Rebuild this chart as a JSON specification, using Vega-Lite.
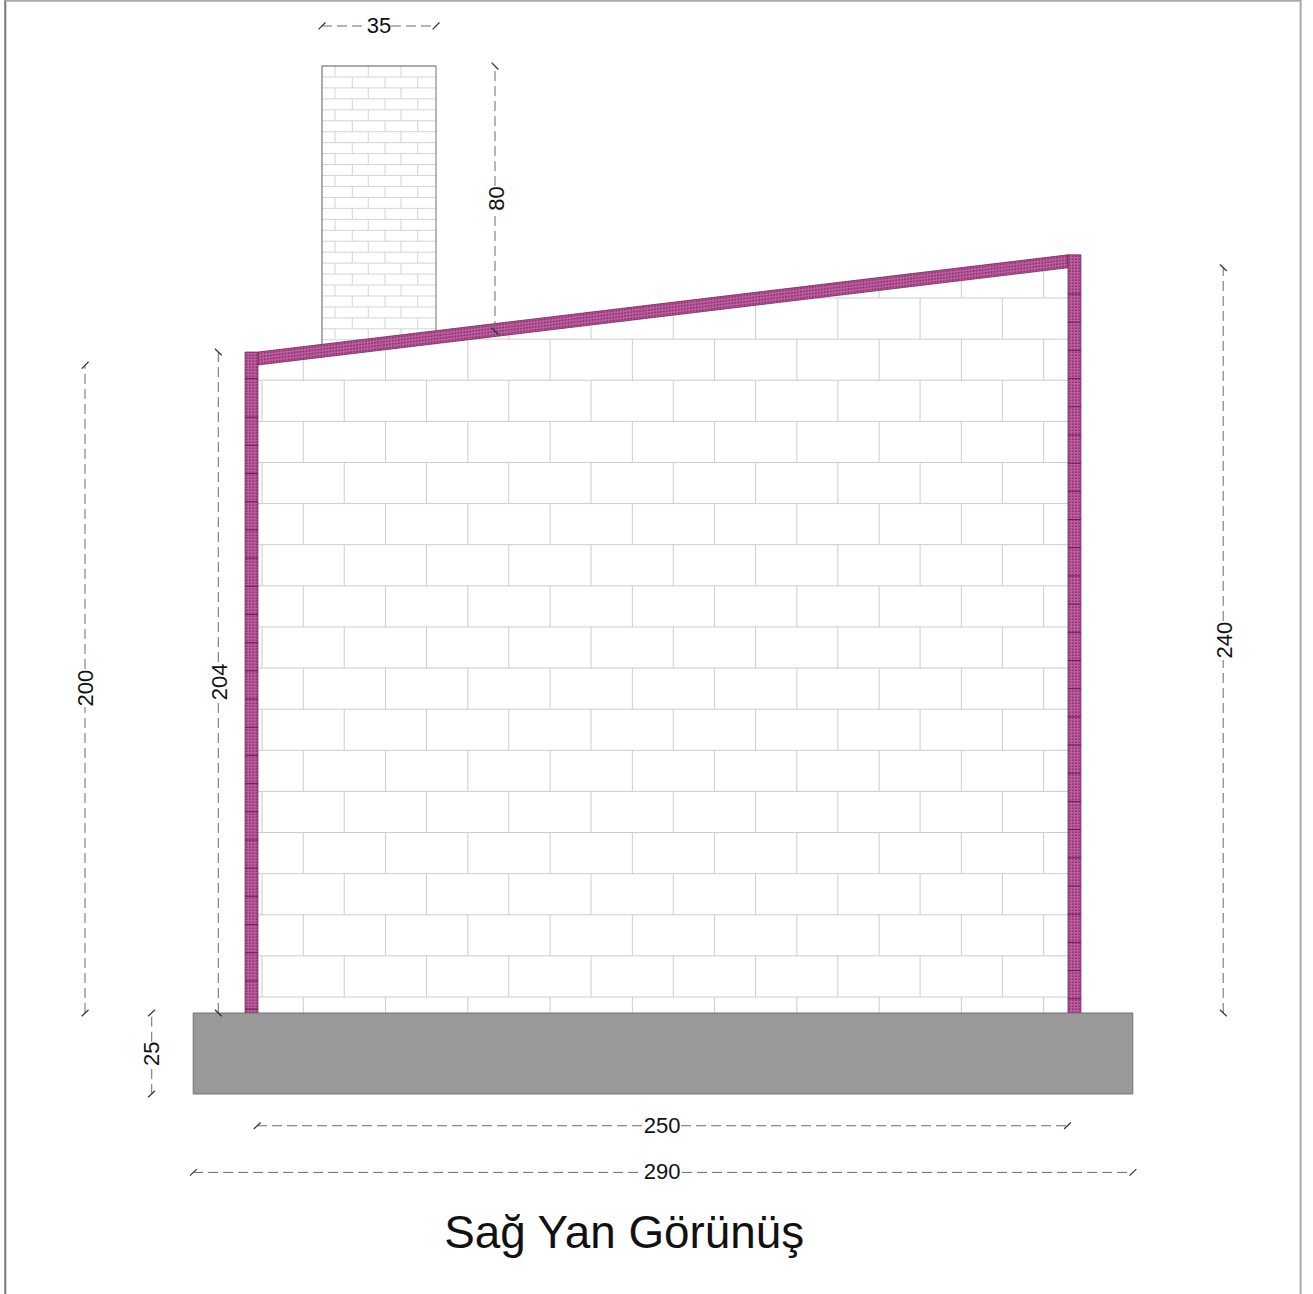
{"$schema":"https://vega.github.io/schema/vega-lite/v6.json","width":1313,"height":1294,"padding":0,"autosize":{"type":"none"},"background":"white","view":{"stroke":null},
"encoding":{"x":{"field":"x","type":"quantitative","axis":null,"scale":{"domain":[-79.63,325.62],"nice":false,"zero":false}},"y":{"field":"y","type":"quantitative","axis":null,"scale":{"domain":[-86.73,312.65],"nice":false,"zero":false}}},
"layer":[
{"data":{"values":[{"x":-78,"x2":-78,"y":-86.73,"y2":312.65}]},"mark":{"type":"rule","stroke":"#777777","strokeWidth":2},"encoding":{"x2":{"field":"x2"},"y2":{"field":"y2"}}},
{"data":{"values":[{"x":321.8,"x2":321.8,"y":-86.73,"y2":312.65},{"x":-78,"x2":321.8,"y":312.44,"y2":312.44}]},"mark":{"type":"rule","stroke":"#aaaaaa","strokeWidth":2},"encoding":{"x2":{"field":"x2"},"y2":{"field":"y2"}}},
{"data":{"values":[
{"x":0,"x2":250,"y":4.94,"y2":4.94},{"x":0,"x2":250,"y":17.63,"y2":17.63},{"x":0,"x2":250,"y":30.32,"y2":30.32},{"x":0,"x2":250,"y":43.01,"y2":43.01},{"x":0,"x2":250,"y":55.7,"y2":55.7},{"x":0,"x2":250,"y":68.39,"y2":68.39},{"x":0,"x2":250,"y":81.08,"y2":81.08},{"x":0,"x2":250,"y":93.77,"y2":93.77},{"x":0,"x2":250,"y":106.46,"y2":106.46},{"x":0,"x2":250,"y":119.15,"y2":119.15},{"x":0,"x2":250,"y":131.84,"y2":131.84},{"x":0,"x2":250,"y":144.53,"y2":144.53},{"x":0,"x2":250,"y":157.22,"y2":157.22},{"x":0,"x2":250,"y":169.91,"y2":169.91},{"x":0,"x2":250,"y":182.6,"y2":182.6},{"x":0,"x2":250,"y":195.29,"y2":195.29},{"x":66.5,"x2":250,"y":207.98,"y2":207.98},{"x":172.25,"x2":250,"y":220.67,"y2":220.67},
{"x":13.98,"x2":13.98,"y":0,"y2":4.94},{"x":39.37,"x2":39.37,"y":0,"y2":4.94},{"x":64.76,"x2":64.76,"y":0,"y2":4.94},{"x":90.15,"x2":90.15,"y":0,"y2":4.94},{"x":115.54,"x2":115.54,"y":0,"y2":4.94},{"x":140.93,"x2":140.93,"y":0,"y2":4.94},{"x":166.32,"x2":166.32,"y":0,"y2":4.94},{"x":191.71,"x2":191.71,"y":0,"y2":4.94},{"x":217.1,"x2":217.1,"y":0,"y2":4.94},{"x":242.49,"x2":242.49,"y":0,"y2":4.94},
{"x":1.23,"x2":1.23,"y":4.94,"y2":17.63},{"x":26.62,"x2":26.62,"y":4.94,"y2":17.63},{"x":52.01,"x2":52.01,"y":4.94,"y2":17.63},{"x":77.4,"x2":77.4,"y":4.94,"y2":17.63},{"x":102.79,"x2":102.79,"y":4.94,"y2":17.63},{"x":128.18,"x2":128.18,"y":4.94,"y2":17.63},{"x":153.57,"x2":153.57,"y":4.94,"y2":17.63},{"x":178.96,"x2":178.96,"y":4.94,"y2":17.63},{"x":204.35,"x2":204.35,"y":4.94,"y2":17.63},{"x":229.74,"x2":229.74,"y":4.94,"y2":17.63},
{"x":13.98,"x2":13.98,"y":17.63,"y2":30.32},{"x":39.37,"x2":39.37,"y":17.63,"y2":30.32},{"x":64.76,"x2":64.76,"y":17.63,"y2":30.32},{"x":90.15,"x2":90.15,"y":17.63,"y2":30.32},{"x":115.54,"x2":115.54,"y":17.63,"y2":30.32},{"x":140.93,"x2":140.93,"y":17.63,"y2":30.32},{"x":166.32,"x2":166.32,"y":17.63,"y2":30.32},{"x":191.71,"x2":191.71,"y":17.63,"y2":30.32},{"x":217.1,"x2":217.1,"y":17.63,"y2":30.32},{"x":242.49,"x2":242.49,"y":17.63,"y2":30.32},
{"x":1.23,"x2":1.23,"y":30.32,"y2":43.01},{"x":26.62,"x2":26.62,"y":30.32,"y2":43.01},{"x":52.01,"x2":52.01,"y":30.32,"y2":43.01},{"x":77.4,"x2":77.4,"y":30.32,"y2":43.01},{"x":102.79,"x2":102.79,"y":30.32,"y2":43.01},{"x":128.18,"x2":128.18,"y":30.32,"y2":43.01},{"x":153.57,"x2":153.57,"y":30.32,"y2":43.01},{"x":178.96,"x2":178.96,"y":30.32,"y2":43.01},{"x":204.35,"x2":204.35,"y":30.32,"y2":43.01},{"x":229.74,"x2":229.74,"y":30.32,"y2":43.01},
{"x":13.98,"x2":13.98,"y":43.01,"y2":55.7},{"x":39.37,"x2":39.37,"y":43.01,"y2":55.7},{"x":64.76,"x2":64.76,"y":43.01,"y2":55.7},{"x":90.15,"x2":90.15,"y":43.01,"y2":55.7},{"x":115.54,"x2":115.54,"y":43.01,"y2":55.7},{"x":140.93,"x2":140.93,"y":43.01,"y2":55.7},{"x":166.32,"x2":166.32,"y":43.01,"y2":55.7},{"x":191.71,"x2":191.71,"y":43.01,"y2":55.7},{"x":217.1,"x2":217.1,"y":43.01,"y2":55.7},{"x":242.49,"x2":242.49,"y":43.01,"y2":55.7},
{"x":1.23,"x2":1.23,"y":55.7,"y2":68.39},{"x":26.62,"x2":26.62,"y":55.7,"y2":68.39},{"x":52.01,"x2":52.01,"y":55.7,"y2":68.39},{"x":77.4,"x2":77.4,"y":55.7,"y2":68.39},{"x":102.79,"x2":102.79,"y":55.7,"y2":68.39},{"x":128.18,"x2":128.18,"y":55.7,"y2":68.39},{"x":153.57,"x2":153.57,"y":55.7,"y2":68.39},{"x":178.96,"x2":178.96,"y":55.7,"y2":68.39},{"x":204.35,"x2":204.35,"y":55.7,"y2":68.39},{"x":229.74,"x2":229.74,"y":55.7,"y2":68.39},
{"x":13.98,"x2":13.98,"y":68.39,"y2":81.08},{"x":39.37,"x2":39.37,"y":68.39,"y2":81.08},{"x":64.76,"x2":64.76,"y":68.39,"y2":81.08},{"x":90.15,"x2":90.15,"y":68.39,"y2":81.08},{"x":115.54,"x2":115.54,"y":68.39,"y2":81.08},{"x":140.93,"x2":140.93,"y":68.39,"y2":81.08},{"x":166.32,"x2":166.32,"y":68.39,"y2":81.08},{"x":191.71,"x2":191.71,"y":68.39,"y2":81.08},{"x":217.1,"x2":217.1,"y":68.39,"y2":81.08},{"x":242.49,"x2":242.49,"y":68.39,"y2":81.08},
{"x":1.23,"x2":1.23,"y":81.08,"y2":93.77},{"x":26.62,"x2":26.62,"y":81.08,"y2":93.77},{"x":52.01,"x2":52.01,"y":81.08,"y2":93.77},{"x":77.4,"x2":77.4,"y":81.08,"y2":93.77},{"x":102.79,"x2":102.79,"y":81.08,"y2":93.77},{"x":128.18,"x2":128.18,"y":81.08,"y2":93.77},{"x":153.57,"x2":153.57,"y":81.08,"y2":93.77},{"x":178.96,"x2":178.96,"y":81.08,"y2":93.77},{"x":204.35,"x2":204.35,"y":81.08,"y2":93.77},{"x":229.74,"x2":229.74,"y":81.08,"y2":93.77},
{"x":13.98,"x2":13.98,"y":93.77,"y2":106.46},{"x":39.37,"x2":39.37,"y":93.77,"y2":106.46},{"x":64.76,"x2":64.76,"y":93.77,"y2":106.46},{"x":90.15,"x2":90.15,"y":93.77,"y2":106.46},{"x":115.54,"x2":115.54,"y":93.77,"y2":106.46},{"x":140.93,"x2":140.93,"y":93.77,"y2":106.46},{"x":166.32,"x2":166.32,"y":93.77,"y2":106.46},{"x":191.71,"x2":191.71,"y":93.77,"y2":106.46},{"x":217.1,"x2":217.1,"y":93.77,"y2":106.46},{"x":242.49,"x2":242.49,"y":93.77,"y2":106.46},
{"x":1.23,"x2":1.23,"y":106.46,"y2":119.15},{"x":26.62,"x2":26.62,"y":106.46,"y2":119.15},{"x":52.01,"x2":52.01,"y":106.46,"y2":119.15},{"x":77.4,"x2":77.4,"y":106.46,"y2":119.15},{"x":102.79,"x2":102.79,"y":106.46,"y2":119.15},{"x":128.18,"x2":128.18,"y":106.46,"y2":119.15},{"x":153.57,"x2":153.57,"y":106.46,"y2":119.15},{"x":178.96,"x2":178.96,"y":106.46,"y2":119.15},{"x":204.35,"x2":204.35,"y":106.46,"y2":119.15},{"x":229.74,"x2":229.74,"y":106.46,"y2":119.15},
{"x":13.98,"x2":13.98,"y":119.15,"y2":131.84},{"x":39.37,"x2":39.37,"y":119.15,"y2":131.84},{"x":64.76,"x2":64.76,"y":119.15,"y2":131.84},{"x":90.15,"x2":90.15,"y":119.15,"y2":131.84},{"x":115.54,"x2":115.54,"y":119.15,"y2":131.84},{"x":140.93,"x2":140.93,"y":119.15,"y2":131.84},{"x":166.32,"x2":166.32,"y":119.15,"y2":131.84},{"x":191.71,"x2":191.71,"y":119.15,"y2":131.84},{"x":217.1,"x2":217.1,"y":119.15,"y2":131.84},{"x":242.49,"x2":242.49,"y":119.15,"y2":131.84},
{"x":1.23,"x2":1.23,"y":131.84,"y2":144.53},{"x":26.62,"x2":26.62,"y":131.84,"y2":144.53},{"x":52.01,"x2":52.01,"y":131.84,"y2":144.53},{"x":77.4,"x2":77.4,"y":131.84,"y2":144.53},{"x":102.79,"x2":102.79,"y":131.84,"y2":144.53},{"x":128.18,"x2":128.18,"y":131.84,"y2":144.53},{"x":153.57,"x2":153.57,"y":131.84,"y2":144.53},{"x":178.96,"x2":178.96,"y":131.84,"y2":144.53},{"x":204.35,"x2":204.35,"y":131.84,"y2":144.53},{"x":229.74,"x2":229.74,"y":131.84,"y2":144.53},
{"x":13.98,"x2":13.98,"y":144.53,"y2":157.22},{"x":39.37,"x2":39.37,"y":144.53,"y2":157.22},{"x":64.76,"x2":64.76,"y":144.53,"y2":157.22},{"x":90.15,"x2":90.15,"y":144.53,"y2":157.22},{"x":115.54,"x2":115.54,"y":144.53,"y2":157.22},{"x":140.93,"x2":140.93,"y":144.53,"y2":157.22},{"x":166.32,"x2":166.32,"y":144.53,"y2":157.22},{"x":191.71,"x2":191.71,"y":144.53,"y2":157.22},{"x":217.1,"x2":217.1,"y":144.53,"y2":157.22},{"x":242.49,"x2":242.49,"y":144.53,"y2":157.22},
{"x":1.23,"x2":1.23,"y":157.22,"y2":169.91},{"x":26.62,"x2":26.62,"y":157.22,"y2":169.91},{"x":52.01,"x2":52.01,"y":157.22,"y2":169.91},{"x":77.4,"x2":77.4,"y":157.22,"y2":169.91},{"x":102.79,"x2":102.79,"y":157.22,"y2":169.91},{"x":128.18,"x2":128.18,"y":157.22,"y2":169.91},{"x":153.57,"x2":153.57,"y":157.22,"y2":169.91},{"x":178.96,"x2":178.96,"y":157.22,"y2":169.91},{"x":204.35,"x2":204.35,"y":157.22,"y2":169.91},{"x":229.74,"x2":229.74,"y":157.22,"y2":169.91},
{"x":13.98,"x2":13.98,"y":169.91,"y2":182.6},{"x":39.37,"x2":39.37,"y":169.91,"y2":182.6},{"x":64.76,"x2":64.76,"y":169.91,"y2":182.6},{"x":90.15,"x2":90.15,"y":169.91,"y2":182.6},{"x":115.54,"x2":115.54,"y":169.91,"y2":182.6},{"x":140.93,"x2":140.93,"y":169.91,"y2":182.6},{"x":166.32,"x2":166.32,"y":169.91,"y2":182.6},{"x":191.71,"x2":191.71,"y":169.91,"y2":182.6},{"x":217.1,"x2":217.1,"y":169.91,"y2":182.6},{"x":242.49,"x2":242.49,"y":169.91,"y2":182.6},
{"x":1.23,"x2":1.23,"y":182.6,"y2":195.29},{"x":26.62,"x2":26.62,"y":182.6,"y2":195.29},{"x":52.01,"x2":52.01,"y":182.6,"y2":195.29},{"x":77.4,"x2":77.4,"y":182.6,"y2":195.29},{"x":102.79,"x2":102.79,"y":182.6,"y2":195.29},{"x":128.18,"x2":128.18,"y":182.6,"y2":195.29},{"x":153.57,"x2":153.57,"y":182.6,"y2":195.29},{"x":178.96,"x2":178.96,"y":182.6,"y2":195.29},{"x":204.35,"x2":204.35,"y":182.6,"y2":195.29},{"x":229.74,"x2":229.74,"y":182.6,"y2":195.29},
{"x":13.98,"x2":13.98,"y":195.29,"y2":201.68},{"x":39.37,"x2":39.37,"y":195.29,"y2":204.72},{"x":64.76,"x2":64.76,"y":195.29,"y2":207.77},{"x":90.15,"x2":90.15,"y":195.29,"y2":207.98},{"x":115.54,"x2":115.54,"y":195.29,"y2":207.98},{"x":140.93,"x2":140.93,"y":195.29,"y2":207.98},{"x":166.32,"x2":166.32,"y":195.29,"y2":207.98},{"x":191.71,"x2":191.71,"y":195.29,"y2":207.98},{"x":217.1,"x2":217.1,"y":195.29,"y2":207.98},{"x":242.49,"x2":242.49,"y":195.29,"y2":207.98},
{"x":77.4,"x2":77.4,"y":207.98,"y2":209.29},{"x":102.79,"x2":102.79,"y":207.98,"y2":212.33},{"x":128.18,"x2":128.18,"y":207.98,"y2":215.38},{"x":153.57,"x2":153.57,"y":207.98,"y2":218.43},{"x":178.96,"x2":178.96,"y":207.98,"y2":220.67},{"x":204.35,"x2":204.35,"y":207.98,"y2":220.67},{"x":229.74,"x2":229.74,"y":207.98,"y2":220.67},
{"x":191.71,"x2":191.71,"y":220.67,"y2":223},{"x":217.1,"x2":217.1,"y":220.67,"y2":226.05},{"x":242.49,"x2":242.49,"y":220.67,"y2":229.1}
]},"mark":{"type":"rule","stroke":"#cdcdcd","strokeWidth":1},"encoding":{"x2":{"field":"x2"},"y2":{"field":"y2"}}},
{"data":{"values":[
{"x":19.75,"x2":54.94,"y":288.9,"y2":288.9},{"x":19.75,"x2":54.94,"y":285.52,"y2":285.52},{"x":19.75,"x2":54.94,"y":282.14,"y2":282.14},{"x":19.75,"x2":54.94,"y":278.76,"y2":278.76},{"x":19.75,"x2":54.94,"y":275.38,"y2":275.38},{"x":19.75,"x2":54.94,"y":272,"y2":272},{"x":19.75,"x2":54.94,"y":268.62,"y2":268.62},{"x":19.75,"x2":54.94,"y":265.24,"y2":265.24},{"x":19.75,"x2":54.94,"y":261.86,"y2":261.86},{"x":19.75,"x2":54.94,"y":258.48,"y2":258.48},{"x":19.75,"x2":54.94,"y":255.1,"y2":255.1},{"x":19.75,"x2":54.94,"y":251.72,"y2":251.72},{"x":19.75,"x2":54.94,"y":248.34,"y2":248.34},{"x":19.75,"x2":54.94,"y":244.96,"y2":244.96},{"x":19.75,"x2":54.94,"y":241.58,"y2":241.58},{"x":19.75,"x2":54.94,"y":238.2,"y2":238.2},{"x":19.75,"x2":54.94,"y":234.82,"y2":234.82},{"x":19.75,"x2":54.94,"y":231.44,"y2":231.44},{"x":19.75,"x2":54.94,"y":228.06,"y2":228.06},{"x":19.75,"x2":54.94,"y":224.68,"y2":224.68},{"x":19.75,"x2":54.94,"y":221.3,"y2":221.3},{"x":19.75,"x2":54.94,"y":217.92,"y2":217.92},{"x":19.75,"x2":54.94,"y":214.54,"y2":214.54},{"x":19.75,"x2":54.94,"y":211.16,"y2":211.16},{"x":19.75,"x2":31.5,"y":207.78,"y2":207.78},
{"x":23.77,"x2":23.77,"y":288.9,"y2":292.28},{"x":34.04,"x2":34.04,"y":288.9,"y2":292.28},{"x":44.14,"x2":44.14,"y":288.9,"y2":292.28},
{"x":29.1,"x2":29.1,"y":285.52,"y2":288.9},{"x":39.2,"x2":39.2,"y":285.52,"y2":288.9},{"x":49.3,"x2":49.3,"y":285.52,"y2":288.9},
{"x":23.77,"x2":23.77,"y":282.14,"y2":285.52},{"x":34.04,"x2":34.04,"y":282.14,"y2":285.52},{"x":44.14,"x2":44.14,"y":282.14,"y2":285.52},
{"x":29.1,"x2":29.1,"y":278.76,"y2":282.14},{"x":39.2,"x2":39.2,"y":278.76,"y2":282.14},{"x":49.3,"x2":49.3,"y":278.76,"y2":282.14},
{"x":23.77,"x2":23.77,"y":275.38,"y2":278.76},{"x":34.04,"x2":34.04,"y":275.38,"y2":278.76},{"x":44.14,"x2":44.14,"y":275.38,"y2":278.76},
{"x":29.1,"x2":29.1,"y":272,"y2":275.38},{"x":39.2,"x2":39.2,"y":272,"y2":275.38},{"x":49.3,"x2":49.3,"y":272,"y2":275.38},
{"x":23.77,"x2":23.77,"y":268.62,"y2":272},{"x":34.04,"x2":34.04,"y":268.62,"y2":272},{"x":44.14,"x2":44.14,"y":268.62,"y2":272},
{"x":29.1,"x2":29.1,"y":265.24,"y2":268.62},{"x":39.2,"x2":39.2,"y":265.24,"y2":268.62},{"x":49.3,"x2":49.3,"y":265.24,"y2":268.62},
{"x":23.77,"x2":23.77,"y":261.86,"y2":265.24},{"x":34.04,"x2":34.04,"y":261.86,"y2":265.24},{"x":44.14,"x2":44.14,"y":261.86,"y2":265.24},
{"x":29.1,"x2":29.1,"y":258.48,"y2":261.86},{"x":39.2,"x2":39.2,"y":258.48,"y2":261.86},{"x":49.3,"x2":49.3,"y":258.48,"y2":261.86},
{"x":23.77,"x2":23.77,"y":255.1,"y2":258.48},{"x":34.04,"x2":34.04,"y":255.1,"y2":258.48},{"x":44.14,"x2":44.14,"y":255.1,"y2":258.48},
{"x":29.1,"x2":29.1,"y":251.72,"y2":255.1},{"x":39.2,"x2":39.2,"y":251.72,"y2":255.1},{"x":49.3,"x2":49.3,"y":251.72,"y2":255.1},
{"x":23.77,"x2":23.77,"y":248.34,"y2":251.72},{"x":34.04,"x2":34.04,"y":248.34,"y2":251.72},{"x":44.14,"x2":44.14,"y":248.34,"y2":251.72},
{"x":29.1,"x2":29.1,"y":244.96,"y2":248.34},{"x":39.2,"x2":39.2,"y":244.96,"y2":248.34},{"x":49.3,"x2":49.3,"y":244.96,"y2":248.34},
{"x":23.77,"x2":23.77,"y":241.58,"y2":244.96},{"x":34.04,"x2":34.04,"y":241.58,"y2":244.96},{"x":44.14,"x2":44.14,"y":241.58,"y2":244.96},
{"x":29.1,"x2":29.1,"y":238.2,"y2":241.58},{"x":39.2,"x2":39.2,"y":238.2,"y2":241.58},{"x":49.3,"x2":49.3,"y":238.2,"y2":241.58},
{"x":23.77,"x2":23.77,"y":234.82,"y2":238.2},{"x":34.04,"x2":34.04,"y":234.82,"y2":238.2},{"x":44.14,"x2":44.14,"y":234.82,"y2":238.2},
{"x":29.1,"x2":29.1,"y":231.44,"y2":234.82},{"x":39.2,"x2":39.2,"y":231.44,"y2":234.82},{"x":49.3,"x2":49.3,"y":231.44,"y2":234.82},
{"x":23.77,"x2":23.77,"y":228.06,"y2":231.44},{"x":34.04,"x2":34.04,"y":228.06,"y2":231.44},{"x":44.14,"x2":44.14,"y":228.06,"y2":231.44},
{"x":29.1,"x2":29.1,"y":224.68,"y2":228.06},{"x":39.2,"x2":39.2,"y":224.68,"y2":228.06},{"x":49.3,"x2":49.3,"y":224.68,"y2":228.06},
{"x":23.77,"x2":23.77,"y":221.3,"y2":224.68},{"x":34.04,"x2":34.04,"y":221.3,"y2":224.68},{"x":44.14,"x2":44.14,"y":221.3,"y2":224.68},
{"x":29.1,"x2":29.1,"y":217.92,"y2":221.3},{"x":39.2,"x2":39.2,"y":217.92,"y2":221.3},{"x":49.3,"x2":49.3,"y":217.92,"y2":221.3},
{"x":23.77,"x2":23.77,"y":214.54,"y2":217.92},{"x":34.04,"x2":34.04,"y":214.54,"y2":217.92},{"x":44.14,"x2":44.14,"y":214.54,"y2":217.92},
{"x":29.1,"x2":29.1,"y":211.16,"y2":214.54},{"x":39.2,"x2":39.2,"y":211.16,"y2":214.54},{"x":49.3,"x2":49.3,"y":211.16,"y2":214.54},
{"x":23.77,"x2":23.77,"y":207.78,"y2":211.16},{"x":34.04,"x2":34.04,"y":208.08,"y2":211.16},{"x":44.14,"x2":44.14,"y":209.3,"y2":211.16}
]},"mark":{"type":"rule","stroke":"#d4d4d4","strokeWidth":1},"encoding":{"x2":{"field":"x2"},"y2":{"field":"y2"}}},
{"data":{"values":[{"x":54.94,"x2":54.94,"y":210.59,"y2":292.28}]},"mark":{"type":"rule","stroke":"#a0a0a0","strokeWidth":1.5},"encoding":{"x2":{"field":"x2"},"y2":{"field":"y2"}}},
{"data":{"values":[{"x":19.75,"x2":19.75,"y":206.37,"y2":292.28},{"x":19.75,"x2":54.94,"y":292.28,"y2":292.28}]},"mark":{"type":"rule","stroke":"#5a5a5a","strokeWidth":1},"encoding":{"x2":{"field":"x2"},"y2":{"field":"y2"}}},
{"data":{"values":[{"x":0,"y":204,"y2":200},{"x":250,"y":234,"y2":230}]},"mark":{"type":"area","fill":"#bb5c9d","stroke":"#5f1648","strokeWidth":0.7},"encoding":{"y2":{"field":"y2"}}},
{"data":{"values":[{"x":-4,"x2":0,"y":0,"y2":204},{"x":250,"x2":254,"y":0,"y2":234}]},"mark":{"type":"rect","fill":"#bb5c9d","stroke":"#5f1648","strokeWidth":0.7},"encoding":{"x2":{"field":"x2"},"y2":{"field":"y2"}}},
{"data":{"values":[
{"x":0,"x2":250,"y":200.5,"y2":230.5},{"x":0,"x2":250,"y":201.5,"y2":231.5},{"x":0,"x2":250,"y":202.5,"y2":232.5},{"x":0,"x2":250,"y":203.5,"y2":233.5},
{"x":-3.5,"x2":-3.5,"y":0,"y2":204},{"x":-2.5,"x2":-2.5,"y":0,"y2":204},{"x":-1.5,"x2":-1.5,"y":0,"y2":204},{"x":-0.5,"x2":-0.5,"y":0,"y2":204},
{"x":250.5,"x2":250.5,"y":0,"y2":234},{"x":251.5,"x2":251.5,"y":0,"y2":234},{"x":252.5,"x2":252.5,"y":0,"y2":234},{"x":253.5,"x2":253.5,"y":0,"y2":234}
]},"mark":{"type":"rule","stroke":"#8a2f70","strokeWidth":1.6,"strokeDash":[1.6,1.4]},"encoding":{"x2":{"field":"x2"},"y2":{"field":"y2"}}},
{"data":{"values":[
{"x":-4,"x2":0,"y":1.2,"y2":1.2},{"x":-4,"x2":0,"y":9.9,"y2":9.9},{"x":-4,"x2":0,"y":18.6,"y2":18.6},{"x":-4,"x2":0,"y":27.3,"y2":27.3},{"x":-4,"x2":0,"y":36,"y2":36},{"x":-4,"x2":0,"y":44.7,"y2":44.7},{"x":-4,"x2":0,"y":53.4,"y2":53.4},{"x":-4,"x2":0,"y":62.1,"y2":62.1},{"x":-4,"x2":0,"y":70.8,"y2":70.8},{"x":-4,"x2":0,"y":79.5,"y2":79.5},{"x":-4,"x2":0,"y":88.2,"y2":88.2},{"x":-4,"x2":0,"y":96.9,"y2":96.9},{"x":-4,"x2":0,"y":105.6,"y2":105.6},{"x":-4,"x2":0,"y":114.3,"y2":114.3},{"x":-4,"x2":0,"y":123,"y2":123},{"x":-4,"x2":0,"y":131.7,"y2":131.7},{"x":-4,"x2":0,"y":140.4,"y2":140.4},{"x":-4,"x2":0,"y":149.1,"y2":149.1},{"x":-4,"x2":0,"y":157.8,"y2":157.8},{"x":-4,"x2":0,"y":166.5,"y2":166.5},{"x":-4,"x2":0,"y":175.2,"y2":175.2},{"x":-4,"x2":0,"y":183.9,"y2":183.9},{"x":-4,"x2":0,"y":195.8,"y2":195.8},
{"x":250,"x2":254,"y":4.4,"y2":4.4},{"x":250,"x2":254,"y":13.1,"y2":13.1},{"x":250,"x2":254,"y":21.8,"y2":21.8},{"x":250,"x2":254,"y":30.5,"y2":30.5},{"x":250,"x2":254,"y":39.2,"y2":39.2},{"x":250,"x2":254,"y":47.9,"y2":47.9},{"x":250,"x2":254,"y":56.6,"y2":56.6},{"x":250,"x2":254,"y":65.3,"y2":65.3},{"x":250,"x2":254,"y":74,"y2":74},{"x":250,"x2":254,"y":82.7,"y2":82.7},{"x":250,"x2":254,"y":91.4,"y2":91.4},{"x":250,"x2":254,"y":100.1,"y2":100.1},{"x":250,"x2":254,"y":108.8,"y2":108.8},{"x":250,"x2":254,"y":117.5,"y2":117.5},{"x":250,"x2":254,"y":126.2,"y2":126.2},{"x":250,"x2":254,"y":134.9,"y2":134.9},{"x":250,"x2":254,"y":143.6,"y2":143.6},{"x":250,"x2":254,"y":152.3,"y2":152.3},{"x":250,"x2":254,"y":161,"y2":161},{"x":250,"x2":254,"y":169.7,"y2":169.7},{"x":250,"x2":254,"y":178.4,"y2":178.4},{"x":250,"x2":254,"y":187.1,"y2":187.1},{"x":250,"x2":254,"y":195.8,"y2":195.8},{"x":250,"x2":254,"y":204.5,"y2":204.5},{"x":250,"x2":254,"y":213.2,"y2":213.2},{"x":250,"x2":254,"y":221.9,"y2":221.9}
]},"mark":{"type":"rule","stroke":"#5a0f42","strokeWidth":0.8},"encoding":{"x2":{"field":"x2"},"y2":{"field":"y2"}}},
{"data":{"values":[{"x":-20,"x2":270,"y":-25,"y2":0}]},"mark":{"type":"rect","fill":"#999999","stroke":"#737373","strokeWidth":1},"encoding":{"x2":{"field":"x2"},"y2":{"field":"y2"}}},
{"data":{"values":[
{"x":19.75,"x2":33.5,"y":304.63,"y2":304.63},{"x":41,"x2":54.94,"y":304.63,"y2":304.63},
{"x":73.15,"x2":73.15,"y":255.2,"y2":292.28},{"x":73.15,"x2":73.15,"y":210.5,"y2":247.5},
{"x":-53.4,"x2":-53.4,"y":106.2,"y2":200},{"x":-53.4,"x2":-53.4,"y":0,"y2":94.4},
{"x":-12.25,"x2":-12.25,"y":108.3,"y2":204},{"x":-12.25,"x2":-12.25,"y":0,"y2":96},
{"x":297.9,"x2":297.9,"y":121,"y2":230},{"x":297.9,"x2":297.9,"y":0,"y2":108.95},
{"x":-32.8,"x2":-32.8,"y":-8.86,"y2":0},{"x":-32.8,"x2":-32.8,"y":-25,"y2":-16.36},
{"x":-0.3,"x2":118.8,"y":-34.8,"y2":-34.8},{"x":130.6,"x2":249.8,"y":-34.8,"y2":-34.8},
{"x":-20,"x2":118.8,"y":-49.2,"y2":-49.2},{"x":130.9,"x2":270,"y":-49.2,"y2":-49.2}
]},"mark":{"type":"rule","stroke":"#6a6a6a","strokeWidth":1,"strokeDash":[10,5]},"encoding":{"x2":{"field":"x2"},"y2":{"field":"y2"}}},
{"data":{"values":[
{"x":18.7,"x2":20.8,"y":303.6,"y2":305.7},{"x":53.9,"x2":56,"y":303.6,"y2":305.7},
{"x":72.1,"x2":74.2,"y":293.3,"y2":291.2},{"x":72.1,"x2":74.2,"y":211.5,"y2":209.4},
{"x":-54.4,"x2":-52.3,"y":198.9,"y2":201},{"x":-54.4,"x2":-52.3,"y":-1,"y2":1},
{"x":-13.3,"x2":-11.2,"y":205,"y2":203},{"x":-13.3,"x2":-11.2,"y":1,"y2":-1},
{"x":296.9,"x2":299,"y":231,"y2":229},{"x":296.9,"x2":299,"y":1,"y2":-1},
{"x":-33.9,"x2":-31.8,"y":-1,"y2":1},{"x":-33.9,"x2":-31.8,"y":-26,"y2":-24},
{"x":-1.3,"x2":0.8,"y":-35.8,"y2":-33.8},{"x":248.8,"x2":250.9,"y":-35.8,"y2":-33.8},
{"x":-21,"x2":-18.9,"y":-50.2,"y2":-48.2},{"x":269,"x2":271.1,"y":-50.2,"y2":-48.2}
]},"mark":{"type":"rule","stroke":"#333333","strokeWidth":1.2},"encoding":{"x2":{"field":"x2"},"y2":{"field":"y2"}}},
{"data":{"values":[{"x":37.35,"y":304.63,"t":"35"},{"x":124.7,"y":-34.8,"t":"250"},{"x":124.7,"y":-49.2,"t":"290"}]},"mark":{"type":"text","font":"Liberation Sans","fontSize":22,"fill":"#111111","align":"center","baseline":"middle"},"encoding":{"text":{"field":"t"}}},
{"data":{"values":[{"x":73.9,"y":251.4,"t":"80"},{"x":-53.1,"y":100.3,"t":"200"},{"x":-11.85,"y":102.2,"t":"204"},{"x":298.4,"y":115.1,"t":"240"},{"x":-32.8,"y":-12.6,"t":"25"}]},"mark":{"type":"text","font":"Liberation Sans","fontSize":22,"fill":"#111111","align":"center","baseline":"middle","angle":270},"encoding":{"text":{"field":"t"}}},
{"data":{"values":[{"x":113,"y":-72.5,"t":"Sağ Yan Görünüş"}]},"mark":{"type":"text","font":"Liberation Sans","fontSize":45.8,"fill":"#111111","align":"center","baseline":"alphabetic"},"encoding":{"text":{"field":"t"}}}
]}
